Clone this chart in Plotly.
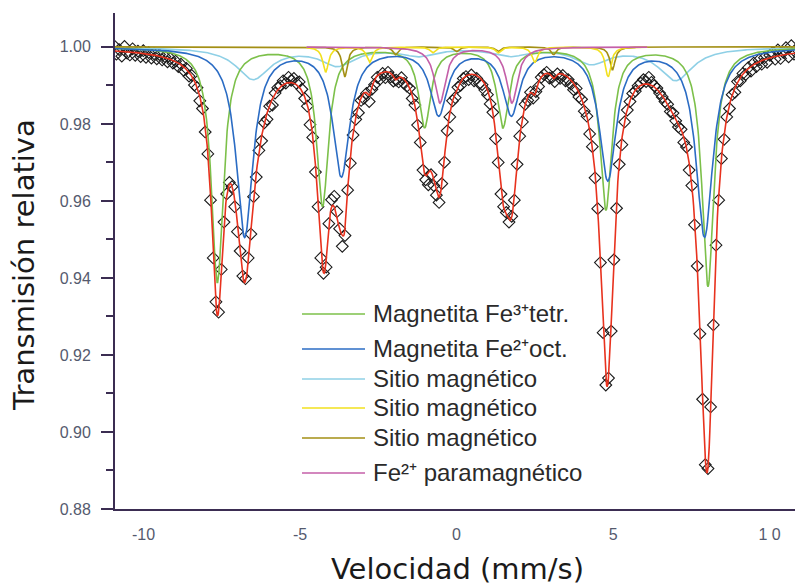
import numpy as np
import plotly.graph_objects as go

# ---------------- data ----------------
# measured spectrum: channel velocities (mm/s) and relative transmission
vel_start, vel_stop, n_channels = -10.95, 10.95, 256
transmission = [
    1.0004, 0.9981, 0.9993, 0.9976, 1.0001, 0.9984, 0.9979, 0.9995, 0.9978, 0.9989,
    0.9975, 0.9990, 0.9973, 0.9985, 0.9971, 0.9982, 0.9969, 0.9980, 0.9966, 0.9975,
    0.9961, 0.9970, 0.9958, 0.9963, 0.9949, 0.9955, 0.9939, 0.9944, 0.9924, 0.9926,
    0.9901, 0.9894, 0.9860, 0.9840, 0.9779, 0.9722, 0.9602, 0.9452, 0.9338, 0.9311,
    0.9422, 0.9545, 0.9618, 0.9648, 0.9637, 0.9585, 0.9520, 0.9470, 0.9405, 0.9398,
    0.9452, 0.9514, 0.9611, 0.9662, 0.9731, 0.9756, 0.9803, 0.9812, 0.9846, 0.9849,
    0.9880, 0.9894, 0.9899, 0.9912, 0.9906, 0.9921, 0.9913, 0.9918, 0.9905, 0.9909,
    0.9890, 0.9866, 0.9846, 0.9798, 0.9765, 0.9675, 0.9585, 0.9452, 0.9412, 0.9428,
    0.9541, 0.9603, 0.9612, 0.9572, 0.9528, 0.9482, 0.9510, 0.9628, 0.9698, 0.9771,
    0.9812, 0.9829, 0.9861, 0.9866, 0.9879, 0.9858, 0.9890, 0.9902, 0.9921, 0.9916,
    0.9931, 0.9920, 0.9934, 0.9922, 0.9911, 0.9914, 0.9909, 0.9920, 0.9905, 0.9898,
    0.9893, 0.9866, 0.9849, 0.9797, 0.9752, 0.9680, 0.9655, 0.9642, 0.9668, 0.9640,
    0.9615, 0.9596, 0.9645, 0.9701, 0.9782, 0.9818, 0.9860, 0.9868, 0.9895, 0.9900,
    0.9918, 0.9923, 0.9915, 0.9927, 0.9912, 0.9918, 0.9905, 0.9902, 0.9888, 0.9876,
    0.9852, 0.9830, 0.9762, 0.9700, 0.9618, 0.9585, 0.9570, 0.9545, 0.9560, 0.9602,
    0.9695, 0.9768, 0.9805, 0.9851, 0.9861, 0.9882, 0.9867, 0.9884, 0.9897, 0.9921,
    0.9928, 0.9934, 0.9919, 0.9921, 0.9910, 0.9930, 0.9918, 0.9926, 0.9912, 0.9915,
    0.9903, 0.9889, 0.9892, 0.9870, 0.9864, 0.9833, 0.9820, 0.9774, 0.9741, 0.9660,
    0.9580, 0.9440, 0.9258, 0.9122, 0.9140, 0.9262, 0.9447, 0.9581, 0.9695, 0.9746,
    0.9805, 0.9836, 0.9858, 0.9879, 0.9885, 0.9899, 0.9906, 0.9915, 0.9910, 0.9921,
    0.9908, 0.9899, 0.9893, 0.9880, 0.9870, 0.9858, 0.9851, 0.9832, 0.9828, 0.9808,
    0.9792, 0.9786, 0.9752, 0.9740, 0.9680, 0.9640, 0.9538, 0.9431, 0.9255, 0.9085,
    0.8915, 0.8905, 0.9065, 0.9278, 0.9485, 0.9602, 0.9710, 0.9760, 0.9818, 0.9840,
    0.9876, 0.9882, 0.9910, 0.9912, 0.9931, 0.9928, 0.9946, 0.9937, 0.9958, 0.9949,
    0.9966, 0.9955, 0.9972, 0.9960, 0.9978, 0.9985, 0.9968, 0.9992, 0.9970, 0.9986,
    0.9998, 0.9974, 1.0003, 0.9981, 0.9995, 0.9977,
]

# fitted sites: line positions (mm/s), line depths, line width (FWHM, mm/s)
green_pos = [-7.64, -4.28, -1.02, 1.48, 4.77, 8.03]
green_dep = [0.061, 0.041, 0.0205, 0.0205, 0.042, 0.062]
green_w = 0.46
blue_pos = [-6.77, -3.68, -0.57, 1.75, 4.83, 7.92]
blue_dep = [0.049, 0.033, 0.017, 0.017, 0.034, 0.049]
blue_w = 0.65
cyan_pos = [-6.5, -3.8, -1.2, 1.7, 4.3, 7.0]
cyan_dep = [0.0082, 0.0045, 0.002, 0.002, 0.004, 0.0085]
cyan_w = 1.3
yellow_pos = [-4.18, -2.78, -0.76, 1.33, 2.5, 4.84]
yellow_dep = [0.0065, 0.004, 0.0015, 0.0015, 0.004, 0.0078]
yellow_w = 0.22
olive_pos = [-3.57, -1.95, 0.0, 1.33, 3.1, 4.98]
olive_dep = [0.0078, 0.002, 0.0012, 0.0012, 0.002, 0.006]
olive_w = 0.2
pink_pos = [-0.53, 1.77]
pink_dep = [0.0145, 0.0145]
pink_w = 0.42
drawn_span_yellow_pink = [-4.8, 6.1]

legend_labels = [
    "Magnetita Fe³⁺tetr.",
    "Magnetita Fe²⁺oct.",
    "Sitio magnético",
    "Sitio magnético",
    "Sitio magnético",
    "Fe²⁺ paramagnético",
]
x_tickvals = [-10, -5, 0, 5, 10]
x_ticktext = ["-10", "-5", "0", "5", "1 0"]
y_tickvals = [0.88, 0.90, 0.92, 0.94, 0.96, 0.98, 1.00]

# ---------------- styles ----------------
C_GREEN, C_BLUE, C_CYAN = "#7cc04a", "#2b6cc4", "#8fd0e6"
C_YELLOW, C_OLIVE, C_PINK = "#f2e01e", "#a38f14", "#c45fa8"
C_RED, AXIS = "#e8321e", "#3b2d52"
TICKFONT = dict(family="Liberation Sans, Arial", size=16, color="#555a6e")

W, H = 795, 588
ML, MR, MT, MB = 115, 0, 13, 79
PW, PH = W - ML - MR, H - MT - MB


def px(xpix):
    return (xpix - ML) / PW


def py(ypix):
    return (H - MB - ypix) / PH


def site_curve(v, pos, dep, w):
    hw = w / 2.0
    s = np.zeros_like(v)
    for p, d in zip(pos, dep):
        s += d / (1.0 + ((v - p) / hw) ** 2)
    return 1.0 - s


channels = np.linspace(vel_start, vel_stop, n_channels)
vf = np.arange(-10.95, 10.951, 0.02)

sites = {
    "cyan": (cyan_pos, cyan_dep, cyan_w),
    "green": (green_pos, green_dep, green_w),
    "blue": (blue_pos, blue_dep, blue_w),
    "olive": (olive_pos, olive_dep, olive_w),
    "yellow": (yellow_pos, yellow_dep, yellow_w),
    "pink": (pink_pos, pink_dep, pink_w),
}
curves = {k: site_curve(vf, *p) for k, p in sites.items()}
fit = 1.0 - sum(1.0 - c for c in curves.values())

fig = go.Figure()
fig.add_trace(go.Scatter(x=channels, y=transmission, mode="markers", name="datos",
                         marker=dict(symbol="diamond-open", size=9, color="#1a1a1a",
                                     line=dict(width=1.1, color="#1a1a1a"))))

span = (vf >= drawn_span_yellow_pink[0]) & (vf <= drawn_span_yellow_pink[1])
order = [("cyan", C_CYAN, None), ("green", C_GREEN, None), ("blue", C_BLUE, None),
         ("olive", C_OLIVE, None), ("yellow", C_YELLOW, span), ("pink", C_PINK, span)]
for key, col, mask in order:
    xs, ys = vf, curves[key]
    if mask is not None:
        xs, ys = vf[mask], ys[mask]
    fig.add_trace(go.Scatter(x=xs, y=ys, mode="lines", name=key,
                             line=dict(color=col, width=1.6)))

fig.add_trace(go.Scatter(x=vf, y=fit, mode="lines", name="ajuste",
                         line=dict(color=C_RED, width=1.6)))

# manual legend: long line samples drawn on an overlay axis in paper units
leg_rows = [314, 349, 379, 408, 438, 473]
leg_cols = [C_GREEN, C_BLUE, C_CYAN, C_YELLOW, C_OLIVE, C_PINK]
annos = []
for yrow, col, lab in zip(leg_rows, leg_cols, legend_labels):
    fig.add_trace(go.Scatter(x=[px(302), px(365)], y=[py(yrow), py(yrow)],
                             xaxis="x2", yaxis="y2", mode="lines", hoverinfo="skip",
                             line=dict(color=col, width=1.6)))
    annos.append(dict(xref="paper", yref="paper", x=px(371), y=py(yrow - 1),
                      xanchor="left", yanchor="middle", showarrow=False, text=lab,
                      font=dict(family="Liberation Sans, Arial", size=24, color="#2a2a2a")))

annos.append(dict(xref="paper", yref="paper", x=px(24), y=py(265), textangle=-90,
                  xanchor="center", yanchor="middle", showarrow=False,
                  text="Transmisión relativa",
                  font=dict(family="DejaVu Sans", size=29, color="#1a1a1a")))
annos.append(dict(xref="paper", yref="paper", x=px(457), y=py(569),
                  xanchor="center", yanchor="middle", showarrow=False,
                  text="Velocidad (mm/s)",
                  font=dict(family="DejaVu Sans", size=29, color="#1a1a1a")))

fig.update_layout(width=W, height=H, margin=dict(l=ML, r=MR, t=MT, b=MB),
                  showlegend=False, plot_bgcolor="white", paper_bgcolor="white",
                  annotations=annos,
                  xaxis2=dict(overlaying="x", range=[0, 1], visible=False),
                  yaxis2=dict(overlaying="y", range=[0, 1], visible=False))
fig.update_layout(
    xaxis=dict(range=[-10.91, 10.81], showgrid=False, zeroline=False,
               showline=True, linecolor=AXIS, linewidth=2, ticks="",
               tickvals=x_tickvals, ticktext=x_ticktext, ticklabelstandoff=10,
               tickfont=TICKFONT),
    yaxis=dict(range=[0.88, 1.0088], showgrid=False, zeroline=False,
               showline=True, linecolor=AXIS, linewidth=2,
               ticks="outside", ticklen=12, tickwidth=2, tickcolor=AXIS,
               tickvals=y_tickvals, tickformat=".2f", ticklabelstandoff=7,
               minor=dict(ticks="outside", ticklen=7, tickwidth=2, tickcolor=AXIS, dtick=0.01),
               tickfont=TICKFONT),
)
fig.write_html("out.html")
